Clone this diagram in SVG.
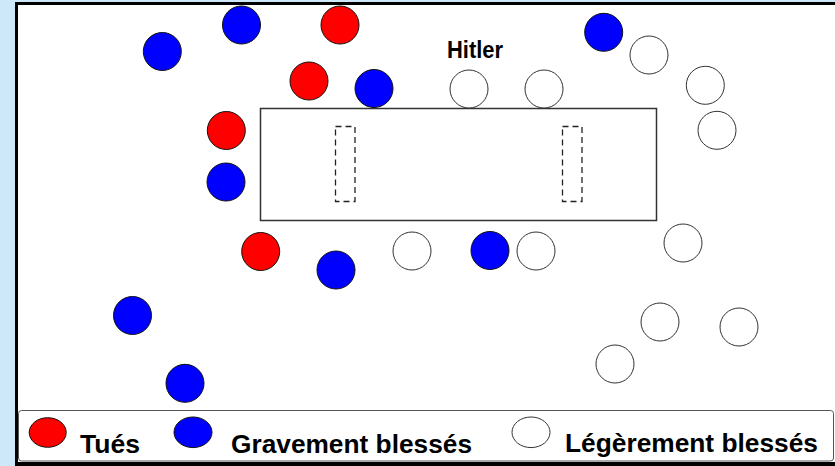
<svg xmlns="http://www.w3.org/2000/svg" width="835" height="466" viewBox="0 0 835 466">
<style>
.k{fill:#ff0000;stroke:#111;stroke-width:1}
.g{fill:#0000ff;stroke:#111;stroke-width:1}
.l{fill:#ffffff;stroke:#333;stroke-width:1}
.t{font-family:"Liberation Sans",Arial,sans-serif;font-weight:bold;fill:#000}
.d{fill:none;stroke:#222;stroke-width:1.3;stroke-dasharray:6,4}
</style>
<rect x="0" y="0" width="835" height="466" fill="#cde9f9"/>
<rect x="15" y="2" width="830" height="470" fill="#000"/>
<rect x="18" y="5" width="820" height="457" fill="#fff"/>
<g id="table">
<rect x="260.5" y="108.5" width="396" height="112" fill="#fff" stroke="#333" stroke-width="1.5"/>
<rect class="d" x="335.5" y="126.5" width="19.5" height="75"/>
<rect class="d" x="562.5" y="126.5" width="19.5" height="75"/>
</g>
<g id="hitler-label"><text class="t" x="475" y="57.5" font-size="23" text-anchor="middle" textLength="56" lengthAdjust="spacingAndGlyphs">Hitler</text></g>
<g id="killed">
<circle class="k" cx="340" cy="25" r="19"/>
<circle class="k" cx="309" cy="81" r="19"/>
<circle class="k" cx="226.3" cy="130.5" r="19"/>
<circle class="k" cx="260.7" cy="251.5" r="19"/>
</g>
<g id="severely-wounded">
<circle class="g" cx="162.3" cy="51.5" r="19"/>
<circle class="g" cx="241.5" cy="25" r="19"/>
<circle class="g" cx="374" cy="88.5" r="19"/>
<circle class="g" cx="226" cy="182" r="19"/>
<circle class="g" cx="336" cy="270" r="19"/>
<circle class="g" cx="490" cy="250.5" r="19"/>
<circle class="g" cx="132.5" cy="315.5" r="19"/>
<circle class="g" cx="185" cy="383.3" r="19"/>
<circle class="g" cx="603.7" cy="32.3" r="19"/>
</g>
<g id="lightly-wounded">
<circle class="l" cx="469" cy="89" r="19"/>
<circle class="l" cx="544" cy="89" r="19"/>
<circle class="l" cx="649" cy="55" r="19"/>
<circle class="l" cx="705.3" cy="85.3" r="19"/>
<circle class="l" cx="717" cy="130.3" r="19"/>
<circle class="l" cx="683" cy="243" r="19"/>
<circle class="l" cx="412" cy="251" r="19"/>
<circle class="l" cx="536" cy="251" r="19"/>
<circle class="l" cx="660" cy="322" r="19"/>
<circle class="l" cx="739" cy="327" r="19"/>
<circle class="l" cx="615" cy="364" r="19"/>
</g>
<g id="connectors"/>
<g id="legend">
<rect x="18.5" y="410.5" width="815" height="50.5" rx="3" fill="#fff" stroke="#555" stroke-width="1"/>
<ellipse class="k" cx="47.7" cy="432.5" rx="18.5" ry="14.8"/>
<text class="t" x="80" y="453" font-size="25" textLength="60" lengthAdjust="spacingAndGlyphs">Tués</text>
<ellipse class="g" cx="193" cy="432.3" rx="19" ry="15.3"/>
<text class="t" x="231" y="453" font-size="25" textLength="241" lengthAdjust="spacingAndGlyphs">Gravement blessés</text>
<ellipse class="l" cx="531" cy="432.3" rx="19" ry="15.3"/>
<text class="t" x="565" y="452" font-size="25" textLength="253" lengthAdjust="spacingAndGlyphs">Légèrement blessés</text>
</g>
</svg>
